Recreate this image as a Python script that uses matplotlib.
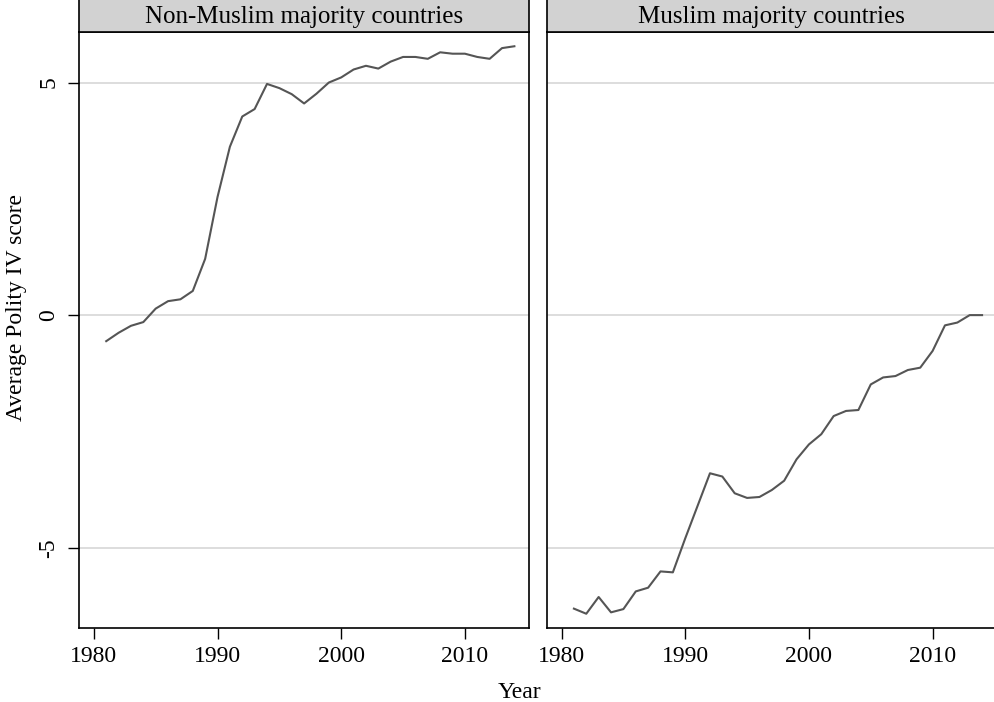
import numpy as np
import matplotlib
matplotlib.use("Agg")
import matplotlib.pyplot as plt

plt.rcParams['font.family'] = ['Liberation Serif', 'DejaVu Serif']
plt.rcParams['axes.unicode_minus'] = False

years = np.arange(1981, 2015)

# average Polity IV score by year, countries without a Muslim majority
non_muslim = [-0.56, -0.38, -0.23, -0.15, 0.14, 0.30, 0.34, 0.52, 1.21, 2.54,
              3.62, 4.27, 4.43, 4.97, 4.88, 4.75, 4.55, 4.76, 5.00, 5.11,
              5.28, 5.36, 5.30, 5.45, 5.55, 5.55, 5.51, 5.65, 5.62, 5.62,
              5.55, 5.51, 5.74, 5.78]

# same measure for Muslim majority countries
muslim = [-6.31, -6.42, -6.06, -6.39, -6.32, -5.94, -5.86, -5.51, -5.53, -4.80,
          -4.10, -3.40, -3.47, -3.83, -3.93, -3.91, -3.76, -3.56, -3.10, -2.78,
          -2.56, -2.17, -2.06, -2.04, -1.49, -1.34, -1.31, -1.18, -1.13, -0.77,
          -0.22, -0.16, 0.0, 0.0]

panels = ['Non-Muslim majority countries', 'Muslim majority countries']
x_ticks = [1980, 1990, 2000, 2010]
y_ticks = [-5, 0, 5]

fig = plt.figure(figsize=(9.95, 7.02), dpi=100)

W, H = 995.0, 702.0
ax_bottom = (H - 627.7) / H
ax_height = (627.7 - 32.3) / H
ax_width = 449.6 / W
lefts = [79.0 / W, 546.7 / W]
strip_h = 33.0 / H

line_col = '#555555'
grid_col = '#dadada'

for i, (title, vals) in enumerate(zip(panels, [non_muslim, muslim])):
    ax = fig.add_axes([lefts[i], ax_bottom, ax_width, ax_height])
    ax.plot(years, vals, color=line_col, lw=1.5, zorder=3)
    ax.set_xlim(1978.8, 2015.15)
    ax.set_ylim(-6.72, 6.08)
    ax.set_xticks(x_ticks)
    ax.set_yticks(y_ticks)
    ax.grid(axis='y', color=grid_col, lw=1.3)
    ax.set_axisbelow(True)
    for s in ax.spines.values():
        s.set_linewidth(1.2)
        s.set_color('black')
    ax.tick_params(axis='x', length=8, width=1.0, labelsize=17, pad=5)
    if i == 0:
        ax.tick_params(axis='y', length=8, width=1.0, labelsize=17,
                       labelrotation=90, pad=6)
        for lab in ax.get_yticklabels():
            lab.set_va('center')
    else:
        ax.tick_params(axis='y', length=0, labelleft=False)

    # grey header strip above each panel
    sax = fig.add_axes([lefts[i], ax_bottom + ax_height, ax_width, strip_h])
    sax.set_facecolor('#d2d2d2')
    sax.set_xticks([])
    sax.set_yticks([])
    for s in sax.spines.values():
        s.set_linewidth(1.2)
        s.set_color('black')
    sax.spines['top'].set_color('#888888')
    sax.text(0.5, 0.47, title, ha='center', va='center', fontsize=18,
             transform=sax.transAxes)

fig.text(17 / W, (H - 307.5) / H, 'Average Polity IV score', rotation=90,
         ha='center', va='center', fontsize=17)
fig.text(519 / W, (H - 693) / H, 'Year', ha='center', va='center',
         fontsize=17)

fig.savefig('out.png', dpi=100)
